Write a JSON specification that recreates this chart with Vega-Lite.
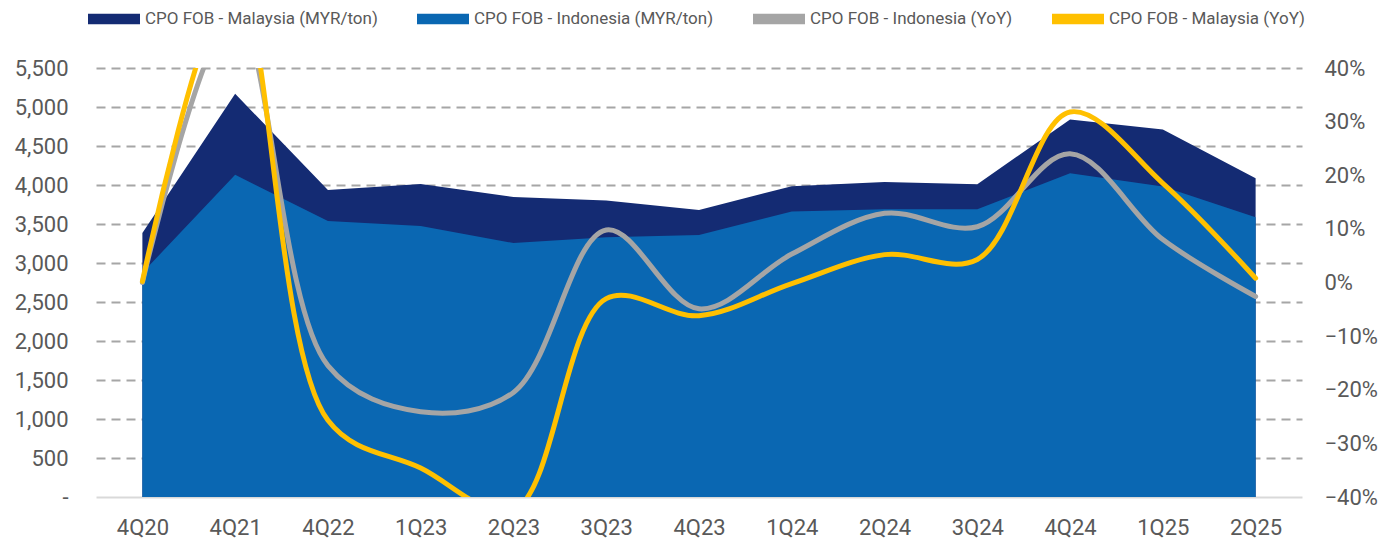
{
  "$schema": "https://vega.github.io/schema/vega-lite/v6.json",
  "width": 1206,
  "height": 429,
  "autosize": "none",
  "padding": {"left": 96, "top": 68, "right": 93, "bottom": 48},
  "background": "white",
  "config": {
    "font": "Roboto",
    "view": {"stroke": null},
    "axis": {"labelColor": "#595959", "labelFont": "Roboto", "labelFontSize": 22, "ticks": false, "domain": false, "title": null}
  },
  "data": {"values": [
    {"q": "4Q20", "my": 3385, "id": 2875, "myy": 0.002, "idy": 0.0},
    {"q": "4Q21", "my": 5170, "id": 4130, "myy": 0.56, "idy": 0.50},
    {"q": "4Q22", "my": 3935, "id": 3540, "myy": -0.257, "idy": -0.155},
    {"q": "1Q23", "my": 4013, "id": 3475, "myy": -0.346, "idy": -0.241},
    {"q": "2Q23", "my": 3846, "id": 3256, "myy": -0.425, "idy": -0.205},
    {"q": "3Q23", "my": 3800, "id": 3330, "myy": -0.03, "idy": 0.098},
    {"q": "4Q23", "my": 3680, "id": 3359, "myy": -0.062, "idy": -0.049},
    {"q": "1Q24", "my": 3985, "id": 3660, "myy": -0.002, "idy": 0.053},
    {"q": "2Q24", "my": 4040, "id": 3688, "myy": 0.052, "idy": 0.129},
    {"q": "3Q24", "my": 4010, "id": 3688, "myy": 0.043, "idy": 0.104},
    {"q": "4Q24", "my": 4840, "id": 4152, "myy": 0.318, "idy": 0.240},
    {"q": "1Q25", "my": 4712, "id": 3980, "myy": 0.185, "idy": 0.080},
    {"q": "2Q25", "my": 4085, "id": 3588, "myy": 0.008, "idy": -0.026}
  ]},
  "encoding": {
    "x": {"field": "q", "type": "ordinal", "sort": null, "scale": {"type": "point", "padding": 0.5},
      "axis": {"labelAngle": 0, "labelPadding": 20, "grid": false}}
  },
  "layer": [
    {
      "encoding": {
        "y": {"type": "quantitative", "scale": {"domain": [0, 5500], "nice": false, "zero": true},
          "axis": {"orient": "left", "values": [0,500,1000,1500,2000,2500,3000,3500,4000,4500,5000,5500],
            "labelExpr": "datum.value == 0 ? '-' : format(datum.value, ',')",
            "labelPadding": 28, "grid": true,
            "gridColor": {"condition": {"test": "datum.value === 0", "value": "#D9D9D9"}, "value": "#A6A6A6"},
            "gridDash": {"condition": {"test": "datum.value === 0", "value": []}, "value": [9, 6]},
            "gridWidth": 2}}
      },
      "layer": [
        {"mark": {"type": "area", "opacity": 1}, "encoding": {"y": {"field": "my", "type": "quantitative", "stack": null},
          "color": {"datum": "CPO FOB - Malaysia (MYR/ton)", "type": "nominal",
            "scale": {
              "domain": ["CPO FOB - Malaysia (MYR/ton)", "CPO FOB - Indonesia (MYR/ton)", "CPO FOB - Indonesia (YoY)", "CPO FOB - Malaysia (YoY)"],
              "range": ["#142B73", "#0A67B2", "#A5A5A5", "#FFC000"]
            },
            "legend": {
              "title": null,
              "orient": "none",
              "direction": "horizontal",
              "legendX": -8,
              "legendY": -75,
              "labelFont": "Roboto",
              "labelFontSize": 17,
              "labelColor": "#595959",
              "labelLimit": 0,
              "labelOffset": 5,
              "columnPadding": 39,
              "symbolSize": 2704,
              "symbolType": "M-1,-0.2H1V0.2H-1Z",
              "symbolStrokeWidth": 0,
              "encode": {
                "symbols": {
                  "update": {
                    "shape": {"signal": "indexof(datum.value, 'YoY') >= 0 ? 'stroke' : 'M-1,-0.2H1V0.2H-1Z'"},
                    "fill": {"signal": "indexof(datum.value, 'YoY') >= 0 ? 'transparent' : scale('color', datum.value)"},
                    "stroke": {"signal": "indexof(datum.value, 'YoY') >= 0 ? scale('color', datum.value) : 'transparent'"},
                    "strokeWidth": {"signal": "indexof(datum.value, 'YoY') >= 0 ? 6 : 0"},
                    "strokeCap": {"value": "round"},
                    "opacity": {"value": 1}
                  }
                }
              }
            }}}},
        {"mark": {"type": "area", "opacity": 1}, "encoding": {"y": {"field": "id", "type": "quantitative", "stack": null}, "color": {"datum": "CPO FOB - Indonesia (MYR/ton)", "type": "nominal"}}}
      ]
    },
    {
      "encoding": {
        "y": {"type": "quantitative", "scale": {"domain": [-0.4, 0.4], "nice": false, "zero": false},
          "axis": {"orient": "right", "values": [-0.4,-0.3,-0.2,-0.1,0,0.1,0.2,0.3,0.4], "format": ".0%", "labelPadding": 22, "grid": false}}
      },
      "layer": [
        {"mark": {"type": "line", "interpolate": "catmull-rom", "strokeWidth": 5, "strokeCap": "round", "clip": true}, "encoding": {"y": {"field": "idy", "type": "quantitative"}, "color": {"datum": "CPO FOB - Indonesia (YoY)", "type": "nominal"}}},
        {"mark": {"type": "line", "interpolate": "catmull-rom", "strokeWidth": 5, "strokeCap": "round", "clip": true}, "encoding": {"y": {"field": "myy", "type": "quantitative"}, "color": {"datum": "CPO FOB - Malaysia (YoY)", "type": "nominal"}}}
      ]
    }
  ],
  "resolve": {"scale": {"y": "independent"}}
}
